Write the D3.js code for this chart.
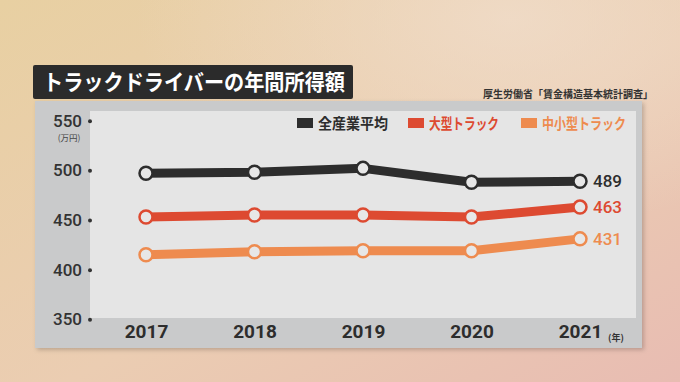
<!DOCTYPE html>
<html>
<head>
<meta charset="utf-8">
<script src="https://cdn.jsdelivr.net/npm/d3@7"></script>
<style>
  html, body { margin: 0; padding: 0; }
  body { width: 680px; height: 382px; overflow: hidden; }
  text { font-family: "Noto Sans CJK JP", "Noto Sans", sans-serif; }
</style>
</head>
<body>
<svg id="chart" width="680" height="382"></svg>
<script>
const years = [2017, 2018, 2019, 2020, 2021];
const yTicks = [350, 400, 450, 500, 550];
const seriesNames = ["全産業平均", "大型トラック", "中小型トラック"];
const allIndustry = [497, 498, 502, 488, 489];
const largeTruck = [453, 455, 455, 453, 463];
const smallTruck = [415, 418, 419, 419, 431];
const endLabels = ["489", "463", "431"];
const colors = ["#2d2d2d", "#dd4a31", "#ee8b4f"];

const series = [allIndustry, largeTruck, smallTruck].map((vals, i) => ({
    name: seriesNames[i], values: vals, color: colors[i], label: endLabels[i]
}));

const svg = d3.select("#chart");
const defs = svg.append("defs");

const bg = defs.append("linearGradient").attr("id", "bg")
    .attr("x1", "0%").attr("y1", "0%").attr("x2", "100%").attr("y2", "100%");
bg.append("stop").attr("offset", "0%").attr("stop-color", "#e8d0a2");
bg.append("stop").attr("offset", "55%").attr("stop-color", "#ebcdb2");
bg.append("stop").attr("offset", "100%").attr("stop-color", "#e8bcb2");

const shine = defs.append("radialGradient").attr("id", "shine")
    .attr("cx", "75%").attr("cy", "5%").attr("r", "55%");
shine.append("stop").attr("offset", "0%").attr("stop-color", "#f1dfcf").attr("stop-opacity", 0.7);
shine.append("stop").attr("offset", "100%").attr("stop-color", "#f1dfcf").attr("stop-opacity", 0);

const shadow = defs.append("filter").attr("id", "shadow")
    .attr("x", "-5%").attr("y", "-5%").attr("width", "110%").attr("height", "115%");
shadow.append("feDropShadow").attr("dx", 2).attr("dy", 2).attr("stdDeviation", 2)
    .attr("flood-color", "#000").attr("flood-opacity", 0.2);

svg.append("rect").attr("width", 680).attr("height", 382).attr("fill", "url(#bg)");
svg.append("rect").attr("width", 680).attr("height", 382).attr("fill", "url(#shine)");

// panel
svg.append("rect")
    .attr("x", 35).attr("y", 101).attr("width", 607).attr("height", 247)
    .attr("fill", "#c9cacb").attr("filter", "url(#shadow)");
svg.append("rect")
    .attr("x", 90).attr("y", 111).attr("width", 546).attr("height", 207)
    .attr("fill", "#e5e5e5");

// title
svg.append("rect")
    .attr("x", 33).attr("y", 65).attr("width", 320).attr("height", 34)
    .attr("rx", 2).attr("fill", "#2b2b2b");
svg.append("text")
    .attr("x", 43).attr("y", 90)
    .attr("fill", "#fff").attr("font-size", 22).attr("font-weight", 700)
    .attr("textLength", 302).attr("lengthAdjust", "spacingAndGlyphs")
    .text("トラックドライバーの年間所得額");

svg.append("text")
    .attr("x", 653).attr("y", 98).attr("text-anchor", "end")
    .attr("fill", "#333").attr("font-size", 10.5).attr("font-weight", 700)
    .attr("textLength", 170).attr("lengthAdjust", "spacingAndGlyphs")
    .text("厚生労働省「賃金構造基本統計調査」");

const x = d3.scalePoint().domain(years).range([146, 580]);
const y = d3.scaleLinear().domain([350, 550]).range([319.3, 120.7]);

// y axis
const yAxis = svg.append("g").attr("transform", "translate(90,0)")
    .call(d3.axisLeft(y).tickValues(yTicks).tickSize(0).tickPadding(8));
yAxis.select(".domain").remove();
yAxis.selectAll("text")
    .attr("font-size", 17).attr("font-weight", 500).attr("fill", "#333")
    .style("font-family", "Roboto, 'Noto Sans', sans-serif");
yAxis.selectAll(".tick").append("circle")
    .attr("r", 2).attr("fill", "#333");
svg.append("text")
    .attr("x", 69).attr("y", 141).attr("text-anchor", "middle")
    .attr("font-size", 8.5).attr("fill", "#444").text("(万円)");

// x axis
const xAxis = svg.append("g").attr("transform", "translate(0,320)")
    .call(d3.axisBottom(x).tickSize(0).tickPadding(4).tickFormat(d3.format("d")));
xAxis.select(".domain").remove();
xAxis.selectAll("text")
    .attr("font-size", 19).attr("font-weight", 700).attr("fill", "#2d2d2d")
    .style("font-family", "Roboto, 'Noto Sans', sans-serif");
svg.append("text")
    .attr("x", 616).attr("y", 341).attr("text-anchor", "middle")
    .attr("font-size", 9).attr("font-weight", 700).attr("fill", "#333").text("(年)");

// lines
const line = d3.line().x((d, i) => x(years[i])).y(d => y(d));
const g = svg.append("g");
series.forEach(s => {
    g.append("path").attr("d", line(s.values))
        .attr("fill", "none").attr("stroke", s.color)
        .attr("stroke-width", 9).attr("stroke-linejoin", "round");
});
series.forEach(s => {
    g.selectAll(null).data(s.values).enter().append("circle")
        .attr("cx", (d, i) => x(years[i])).attr("cy", d => y(d))
        .attr("r", 6.5).attr("fill", "#e7e7e7")
        .attr("stroke", s.color).attr("stroke-width", 2.5);
    const last = s.values[s.values.length - 1];
    g.append("text")
        .attr("x", x(years[years.length - 1]) + 13).attr("y", y(last) + 6)
        .attr("fill", s.color).attr("font-size", 17).attr("font-weight", 500)
        .style("font-family", "Roboto, 'Noto Sans', sans-serif")
        .text(s.label);
});

// legend
const legendX = [297, 408, 521];
const legendW = [70, 70, 84];
series.forEach((s, i) => {
    const lg = svg.append("g").attr("transform", `translate(${legendX[i]},123)`);
    lg.append("rect").attr("x", 0).attr("y", -5).attr("width", 16).attr("height", 10)
        .attr("fill", s.color);
    lg.append("text").attr("x", 21).attr("y", 5.5)
        .attr("font-size", 15).attr("font-weight", 700)
        .attr("fill", i === 0 ? "#2d2d2d" : s.color)
        .attr("textLength", legendW[i]).attr("lengthAdjust", "spacingAndGlyphs")
        .text(s.name);
});
</script>
</body>
</html>
